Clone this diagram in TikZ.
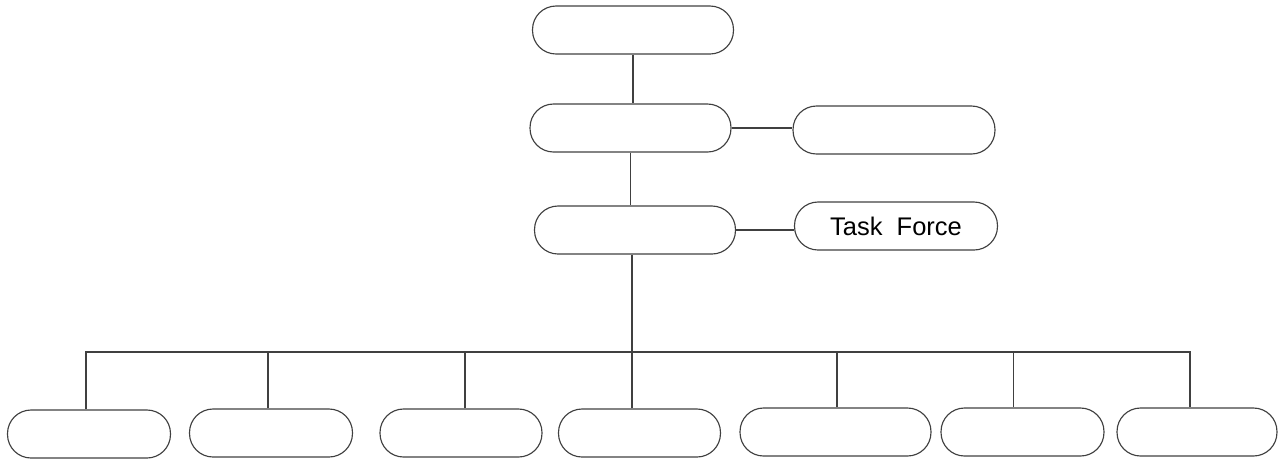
\documentclass[tikz,border=0pt]{standalone}
\usepackage{fontspec}
\setmainfont{Liberation Sans}
\usetikzlibrary{calc}

\tikzset{
	unit/.style={draw=black!75, line width=0.65pt, rounded corners=0.47cm, minimum height=0.96cm, inner sep=0pt, font=\fontsize{14.5}{16}\selectfont},
	link/.style={draw=black!75, line width=0.65pt}
}

\begin{document}
\begin{tikzpicture}[x=0.02cm, y=-0.02cm]
			%%%%% START %%%%%
			
			\useasboundingbox (0, 0) rectangle (1282, 461);
			
			\node[unit, minimum width=4.02cm] (top) at (633, 30) {};
			\node[unit, minimum width=4.02cm] (second) at (630.5, 128) {};
			\node[unit, minimum width=4.04cm] (side) at (894, 130) {};
			\node[unit, minimum width=4.02cm] (third) at (635, 230) {};
			\node[unit, minimum width=4.06cm] (task) at (896, 226) {Task\ \ Force};
			
			\node[unit, minimum width=3.26cm] (b1) at (89, 434) {};
			\node[unit, minimum width=3.26cm] (b2) at (271, 433) {};
			\node[unit, minimum width=3.24cm] (b3) at (461, 433) {};
			\node[unit, minimum width=3.24cm] (b4) at (639.5, 433) {};
			\node[unit, minimum width=3.82cm] (b5) at (835.5, 432) {};
			\node[unit, minimum width=3.26cm] (b6) at (1022.5, 432) {};
			\node[unit, minimum width=3.20cm] (b7) at (1197, 432) {};
			
			\coordinate (bus) at (0, 352);
			
			\draw[link] (top.south) -- (top.south |- second.north);
			\draw[link] (second.south) -- (second.south |- third.north);
			\draw[link] (second.east) -- (second.east -| side.west);
			\draw[link] (third.east) -- (third.east -| task.west);
			\draw[link] ([xshift=-0.06cm]third.south) -- ([xshift=-0.06cm]third.south |- bus);
			
			\draw[link] ([xshift=-0.06cm]b1.north) |- ([xshift=-0.14cm]b7.north |- bus) -- ([xshift=-0.14cm]b7.north);
			\draw[link] ([xshift=-0.06cm]b2.north) -- ([xshift=-0.06cm]b2.north |- bus);
			\draw[link] ([xshift=0.08cm]b3.north) -- ([xshift=0.08cm]b3.north |- bus);
			\draw[link] ([xshift=-0.15cm]b4.north) -- ([xshift=-0.15cm]b4.north |- bus);
			\draw[link] ([xshift=0.03cm]b5.north) -- ([xshift=0.03cm]b5.north |- bus);
			\draw[link] ([xshift=-0.18cm]b6.north) -- ([xshift=-0.18cm]b6.north |- bus);
			
			%%%%% END %%%%%
		\end{tikzpicture}
\end{document}
